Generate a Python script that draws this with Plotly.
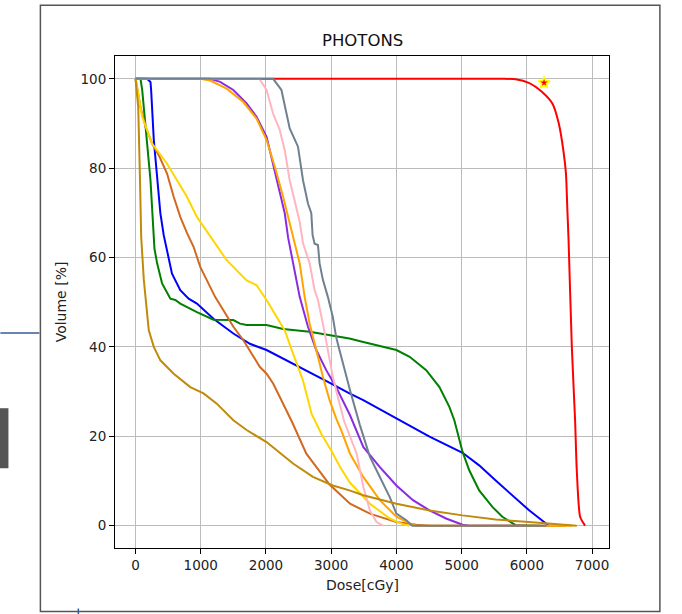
import plotly.graph_objects as go

# ---------------- data ----------------
red_x = [0, 2100, 5600, 5830, 6030, 6230, 6390, 6490, 6560, 6600, 6620, 6640, 6690, 6740, 6766, 6817, 6893]
red_y = [100, 100, 100, 99.9, 99.1, 97.1, 94.5, 90, 84, 78.8, 71.3, 63.9, 40, 23.6, 12.4, 2, 0]

blue_x = [0, 178, 229, 239, 280, 331, 381, 432, 483, 559, 686, 814, 941, 1195, 1500, 1754, 2009, 2314, 2619,
          2950, 3280, 3492, 4000, 4508, 5015, 5269, 5523, 5777, 6030, 6284, 6335]
blue_y = [100, 100, 99.3, 97.5, 86.3, 77.3, 69.9, 65, 61.7, 56.4, 52.7, 50.8, 49.7, 46.3, 43, 40.7, 39.3, 37, 34.8,
          32.2, 29.6, 28.1, 24, 19.9, 16.3, 13.5, 10.1, 6.8, 3.5, 0.6, 0]

green_x = [0, 76, 102, 178, 229, 290, 331, 407, 534, 610, 686, 941, 1195, 1500, 1602, 1703, 2009, 2263, 2517,
           2670, 2985, 3280, 3492, 4000, 4203, 4457, 4660, 4812, 4888, 5015, 5117, 5269, 5472, 5624, 5827, 6200]
green_y = [100, 100, 97.5, 86.3, 77.3, 62, 58.7, 54.2, 50.8, 50.5, 49.7, 47.8, 46.1, 46, 45.2, 44.9, 44.9, 44,
           43.7, 43.4, 42.6, 41.9, 41.1, 39.3, 37.8, 34.8, 31, 26.6, 23.6, 16.5, 12.4, 7.9, 4.2, 2, 0.1, 0]

goldenrod_x = [0, 41, 66, 87, 127, 203, 280, 381, 585, 839, 1042, 1246, 1500, 1703, 2009, 2415, 2720, 3025,
               3280, 3492, 4000, 4508, 5015, 5523, 6030, 6538, 6766]
goldenrod_y = [100, 93.7, 78.8, 64.5, 55, 43.7, 40, 37, 34, 31, 29.6, 27.3, 23.6, 21.4, 18.7, 13.9, 10.9, 9,
               7.9, 6.8, 4.9, 3.4, 2.3, 1.4, 0.8, 0.3, 0]

chocolate_x = [0, 76, 153, 254, 356, 483, 585, 686, 788, 890, 992, 1093, 1220, 1347, 1500, 1653, 1805, 1907,
               2009, 2110, 2212, 2314, 2400, 2619, 2975, 3289, 3594, 4000, 4305, 4508, 6600]
chocolate_y = [100, 93.7, 89.3, 85.5, 82.9, 78.8, 73.6, 69.1, 65.5, 62.4, 57.9, 55, 51.2, 48.2, 44.5, 41.5,
               37.8, 35.5, 34, 31.8, 28.8, 25.8, 23.2, 16.1, 9.2, 4.9, 2.7, 0.8, 0.2, 0, 0]

yellow_x = [0, 102, 254, 331, 483, 636, 788, 941, 1093, 1246, 1398, 1703, 1856, 2009, 2161, 2288, 2415, 2568,
            2700, 2850, 3000, 3150, 3289, 3594, 3898, 4102, 4203]
yellow_y = [100, 91.5, 85.5, 84, 81, 77.3, 73.6, 69.1, 65.8, 62.4, 59.4, 54.9, 53.8, 50.5, 46.7, 43.7, 38.5,
            32.5, 25, 20.5, 16.8, 12.8, 9.6, 4.9, 1.6, 0.3, 0]

purple_x = [0, 1144, 1297, 1500, 1703, 1856, 2009, 2110, 2212, 2288, 2339, 2415, 2517, 2644, 2771, 2924, 3076,
            3289, 3492, 3746, 4000, 4254, 4508, 4761, 5015, 5117, 6000]
purple_y = [100, 100, 99.3, 97.5, 94.5, 91.5, 87, 81, 75, 69.9, 64.5, 58.7, 51.2, 44.5, 39.3, 34.8, 31, 24.7,
            17.6, 13.1, 9, 5.7, 3.4, 1.6, 0.2, 0, 0]

orange_x = [0, 992, 1144, 1398, 1653, 1856, 2009, 2136, 2263, 2364, 2410, 2517, 2593, 2670, 2771, 2873, 2975,
            3076, 3153, 3289, 3492, 3746, 4000, 4203, 4305, 6700]
orange_y = [100, 100, 99.6, 97.8, 94.8, 91.1, 86.3, 80.3, 73.6, 67.5, 65, 58.7, 51.2, 45.2, 39.3, 33.3, 28.1,
            24, 21.4, 16.1, 10.9, 5.7, 2, 0.5, 0, 0]

pink_x = [0, 1897, 2009, 2110, 2212, 2288, 2364, 2441, 2517, 2568, 2670, 2746, 2797, 2873, 2949, 3025, 3102,
          3200, 3391, 3492, 3594, 3695, 3797]
pink_y = [100, 100, 97.5, 92.2, 88.5, 84, 77.3, 72.8, 68, 63.2, 58.7, 52.7, 50.5, 45.2, 39.3, 33.3, 28.8,
          23.3, 16.1, 8.7, 3.4, 0.8, 0]

gray_x = [0, 2110, 2237, 2364, 2491, 2568, 2644, 2695, 2715, 2746, 2797, 2822, 2873, 2949, 3025, 3076, 3127,
          3178, 3254, 3289, 3440, 3594, 3746, 3898, 4000, 4152, 4244, 6300]
gray_y = [100, 100, 97.5, 88.9, 84.8, 77.3, 72.1, 69.9, 65, 63.1, 62.8, 58.7, 55, 51.2, 46.7, 42.2, 39.3,
          36.3, 31.8, 30.3, 22.5, 15.4, 10.9, 6.4, 2.7, 1.2, 0, 0]

star_x = [6264]
star_y = [99.1]

x_ticks = [0, 1000, 2000, 3000, 4000, 5000, 6000, 7000]
y_ticks = [0, 20, 40, 60, 80, 100]

series = [
    (red_x, red_y, "#ff0000", "spline"),
    (blue_x, blue_y, "#0000ff", "linear"),
    (green_x, green_y, "#008000", "linear"),
    (chocolate_x, chocolate_y, "#d2691e", "linear"),
    (yellow_x, yellow_y, "#ffd700", "linear"),
    (purple_x, purple_y, "#8a2be2", "linear"),
    (orange_x, orange_y, "#ffa500", "linear"),
    (pink_x, pink_y, "#ffb6c1", "linear"),
    (gray_x, gray_y, "#708090", "linear"),
    (goldenrod_x, goldenrod_y, "#c08a0a", "linear"),
]

fig = go.Figure()
for xs, ys, c, shp in series:
    line = dict(color=c, width=2, shape=shp)
    if shp == "spline":
        line["smoothing"] = 0.6
    fig.add_trace(go.Scatter(x=xs, y=ys, mode="lines", line=line, hoverinfo="skip"))

fig.add_trace(go.Scatter(x=star_x, y=star_y, mode="markers",
                         marker=dict(symbol="star", size=9, color="#ff0000",
                                     line=dict(color="#ffff00", width=1.5))))

font = "DejaVu Sans, Verdana, sans-serif"
axis_common = dict(showline=True, mirror=True, linecolor="black", linewidth=1,
                   ticks="outside", ticklen=5, tickcolor="black", tickwidth=1,
                   showgrid=True, gridcolor="#bcbcbc", gridwidth=1.2, zeroline=False,
                   tickfont=dict(family=font, size=13.5, color="#222"))

fig.update_layout(
    width=682, height=614,
    margin=dict(l=115, r=73, t=56, b=66),
    paper_bgcolor="white", plot_bgcolor="white",
    showlegend=False,
    font=dict(family=font),
    xaxis=dict(range=[-315, 7260], tickvals=x_ticks, ticktext=[str(v) for v in x_ticks], **axis_common),
    yaxis=dict(range=[-5.0, 105.1], tickvals=y_ticks, ticktext=[str(v) for v in y_ticks], **axis_common),
)

fig.add_annotation(text="PHOTONS", xref="paper", yref="paper", x=0.5, y=1.0305,
                   showarrow=False, xanchor="center", yanchor="middle",
                   font=dict(family=font, size=16.5, color="#111"))
fig.add_annotation(text="Dose[cGy]", xref="paper", yref="paper", x=0.5, y=-0.0759,
                   showarrow=False, xanchor="center", yanchor="middle",
                   font=dict(family=font, size=14, color="#222"))
fig.add_annotation(text="Volume [%]", xref="paper", yref="paper", x=-0.1086, y=0.5,
                   showarrow=False, xanchor="center", yanchor="middle", textangle=-90,
                   font=dict(family=font, size=14, color="#222"))

# outer frame and decorations around the chart
fig.add_shape(type="rect", xref="paper", yref="paper", x0=-0.151, x1=1.103, y0=-0.129, y1=1.103,
              line=dict(color="#555555", width=1.5), fillcolor="rgba(0,0,0,0)", layer="below")
fig.add_shape(type="line", xref="paper", yref="paper", x0=-0.232, x1=-0.153, y0=0.437, y1=0.437,
              line=dict(color="#3a5a9a", width=1.5))
fig.add_shape(type="rect", xref="paper", yref="paper", x0=-0.235, x1=-0.2157, y0=0.1621, y1=0.2841,
              line=dict(color="#555555", width=0), fillcolor="#555555")
fig.add_shape(type="line", xref="paper", yref="paper", x0=-0.0742, x1=-0.0742, y0=-0.1230, y1=-0.14,
              line=dict(color="#3a5a9a", width=1.5))

fig.write_html("out.html")
